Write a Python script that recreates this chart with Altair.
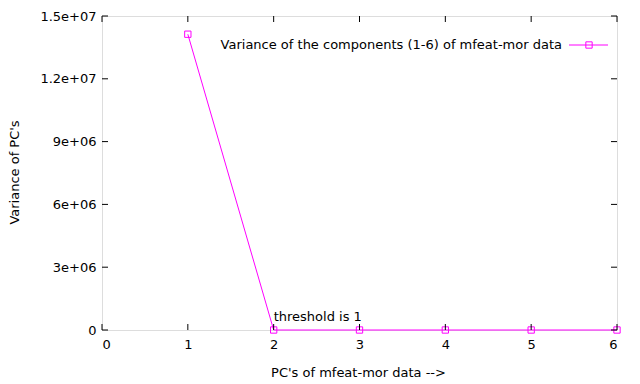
import altair as alt
import pandas as pd

pcs = [1, 2, 3, 4, 5, 6]
variances = [14130000, 1.0, 0.5, 0.3, 0.2, 0.1]
x_ticks = [0, 1, 2, 3, 4, 5, 6]
y_ticks = [0, 3e6, 6e6, 9e6, 1.2e7, 1.5e7]
legend_label = "Variance of the components (1-6) of mfeat-mor data"
note_text = "threshold is 1"
note_x = 2
note_y = 600000

W, H = 515, 314
FONT = "DejaVu Sans"
FS = 13
COL = "#ff00ff"

df = pd.DataFrame({"pc": pcs, "var": variances})
xt = pd.DataFrame({"t": x_ticks})
yt = pd.DataFrame({"t": y_ticks})

xs = alt.Scale(domain=[0, 6], nice=False, zero=False)
ys = alt.Scale(domain=[0, 1.5e7], nice=False)

xaxis = alt.Axis(values=x_ticks, format="d", ticks=False, domain=False, grid=False,
                 labelPadding=8, labelFontSize=FS, labelFont=FONT, labelColor="black",
                 title="PC's of mfeat-mor data -->", titleFont=FONT, titleFontSize=FS,
                 titleFontWeight="normal", titleColor="black", titleX=256, titleY=42,
                 titleBaseline="middle", titleAlign="center")
yaxis = alt.Axis(values=y_ticks, ticks=False, domain=False, grid=False,
                 labelExpr="datum.value == 0 ? '0' : replace(format(datum.value, '.2~e'), /e\\+(\\d)$/, 'e+0$1')",
                 labelPadding=6, labelFontSize=FS, labelFont=FONT, labelColor="black",
                 title="Variance of PC's", titleFont=FONT, titleFontSize=FS,
                 titleFontWeight="normal", titleColor="black", titleX=-88, titleY=156,
                 titleAngle=-90, titleBaseline="middle", titleAlign="center")

line = alt.Chart(df).mark_line(color=COL, strokeWidth=1).encode(
    x=alt.X("pc:Q", scale=xs, axis=xaxis),
    y=alt.Y("var:Q", scale=ys, axis=yaxis),
)
pts = alt.Chart(df).mark_point(shape="square", filled=False, color=COL, size=40,
                               strokeWidth=1, opacity=1).encode(
    x=alt.X("pc:Q", scale=xs), y=alt.Y("var:Q", scale=ys))

tb = alt.Chart(xt).mark_rule(color="black", strokeWidth=1).encode(
    x=alt.X("t:Q", scale=xs), y=alt.value(H), y2=alt.value(H - 6))
tt = alt.Chart(xt).mark_rule(color="black", strokeWidth=1).encode(
    x=alt.X("t:Q", scale=xs), y=alt.value(0), y2=alt.value(6))
tl = alt.Chart(yt).mark_rule(color="black", strokeWidth=1).encode(
    y=alt.Y("t:Q", scale=ys), x=alt.value(0), x2=alt.value(6))
tr = alt.Chart(yt).mark_rule(color="black", strokeWidth=1).encode(
    y=alt.Y("t:Q", scale=ys), x=alt.value(W), x2=alt.value(W - 6))

note = alt.Chart(pd.DataFrame({"x": [note_x], "y": [note_y], "s": [note_text]})).mark_text(
    align="left", baseline="middle", font=FONT, fontSize=FS, color="black").encode(
    x=alt.X("x:Q", scale=xs), y=alt.Y("y:Q", scale=ys), text="s:N")

leg_df = pd.DataFrame({"s": [legend_label]})
leg_text = alt.Chart(leg_df).mark_text(align="right", baseline="middle", font=FONT,
                                       fontSize=FS, color="black").encode(
    x=alt.value(460), y=alt.value(29), text="s:N")
leg_line = alt.Chart(leg_df).mark_rule(color=COL, strokeWidth=1).encode(
    x=alt.value(467), x2=alt.value(506), y=alt.value(29))
leg_pt = alt.Chart(leg_df).mark_point(shape="square", filled=False, color=COL, size=40,
                                      strokeWidth=1, opacity=1).encode(
    x=alt.value(487), y=alt.value(29))

chart = alt.layer(line, pts, tb, tt, tl, tr, note, leg_line, leg_pt, leg_text).properties(
    width=W, height=H,
    autosize=alt.AutoSizeParams(type="none"),
    padding={"left": 94, "top": 8, "right": 15, "bottom": 54},
).configure_view(stroke="black", strokeWidth=1).configure(background="white")

chart.save("out.html", embed_options={"renderer": "svg", "actions": False})
